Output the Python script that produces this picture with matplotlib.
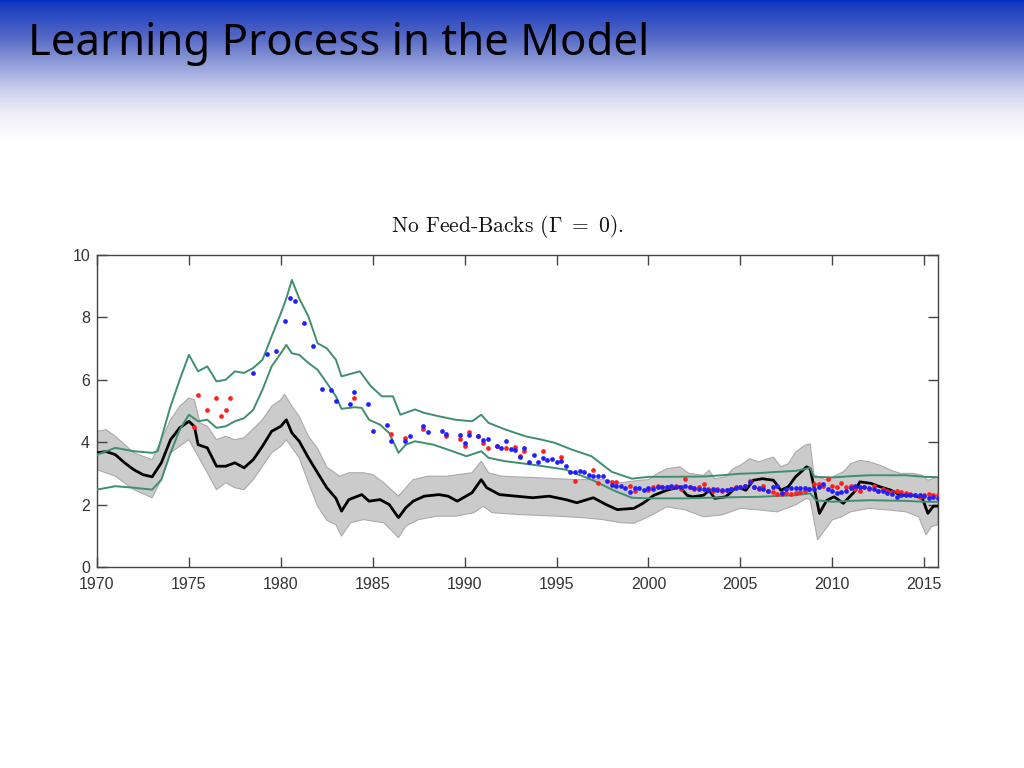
import numpy as np
import matplotlib
matplotlib.use("Agg")
import matplotlib.pyplot as plt

plt.rcParams['mathtext.fontset'] = 'cm'

# ---------------- data ----------------
title = "Learning Process in the Model"
chart_title = r"No Feed-Backs ($\Gamma\ =\ 0$)."
x_ticks = [1970, 1975, 1980, 1985, 1990, 1995, 2000, 2005, 2010, 2015]
y_ticks = [0, 2, 4, 6, 8, 10]

black_x = [1970.0, 1970.5, 1971.0, 1971.5, 1972.0, 1972.5, 1973.0, 1973.5, 1974.0, 1974.5,
           1975.0, 1975.3, 1975.5, 1976.0, 1976.5, 1977.0, 1977.5, 1978.0, 1978.5, 1979.0,
           1979.5, 1980.0, 1980.3, 1980.6, 1981.0, 1981.5, 1982.0, 1982.5, 1983.0, 1983.3,
           1983.7, 1984.4, 1984.8, 1985.4, 1985.9, 1986.4, 1986.8, 1987.2, 1987.8, 1988.6,
           1989.1, 1989.6, 1990.4, 1990.9, 1991.2, 1991.9, 1992.8, 1993.7, 1994.6, 1995.5,
           1996.1, 1997.0, 1997.7, 1998.3, 1999.2, 1999.7, 2000.3, 2001.0, 2001.7, 2002.1,
           2002.4, 2003.0, 2003.3, 2003.6, 2004.2, 2004.8, 2005.3, 2005.7, 2006.2, 2006.8,
           2007.2, 2007.6, 2008.0, 2008.6, 2008.8, 2009.3, 2009.7, 2010.1, 2010.6, 2011.2,
           2011.5, 2012.1, 2012.6, 2013.2, 2013.7, 2014.4, 2014.9, 2015.2, 2015.5, 2015.75]
black_y = [3.66, 3.70, 3.60, 3.34, 3.12, 2.96, 2.89, 3.34, 4.08, 4.46,
           4.67, 4.50, 3.92, 3.82, 3.23, 3.23, 3.34, 3.18, 3.44, 3.87,
           4.35, 4.51, 4.72, 4.30, 4.03, 3.50, 3.02, 2.54, 2.20, 1.79,
           2.16, 2.32, 2.11, 2.16, 2.00, 1.58, 1.90, 2.11, 2.27, 2.32,
           2.27, 2.11, 2.38, 2.80, 2.54, 2.32, 2.27, 2.22, 2.27, 2.16,
           2.06, 2.22, 2.00, 1.84, 1.88, 2.04, 2.30, 2.46, 2.57, 2.30,
           2.25, 2.30, 2.46, 2.20, 2.25, 2.57, 2.46, 2.78, 2.83, 2.78,
           2.46, 2.57, 2.89, 3.21, 3.15, 1.72, 2.14, 2.25, 2.04, 2.41,
           2.73, 2.68, 2.57, 2.46, 2.30, 2.30, 2.20, 1.72, 1.95, 1.95]

band_hi_x = [1970.0, 1970.5, 1971.0, 1972.0, 1973.0, 1973.5, 1974.0, 1974.5, 1975.0, 1975.3,
             1975.6, 1976.0, 1976.5, 1977.0, 1977.5, 1978.0, 1979.0, 1979.5, 1980.0, 1980.2,
             1980.6, 1981.0, 1981.5, 1982.0, 1982.5, 1983.2, 1983.7, 1984.5, 1985.0, 1985.6,
             1986.4, 1987.2, 1988.0, 1989.0, 1990.4, 1990.9, 1991.3, 1992.0, 1994.0, 1996.0,
             1997.5, 1998.5, 1999.5, 2000.0, 2000.5, 2001.0, 2001.7, 2002.2, 2003.0, 2003.3,
             2003.6, 2004.2, 2004.6, 2005.0, 2005.5, 2006.0, 2006.5, 2006.8, 2007.2, 2007.6,
             2008.0, 2008.5, 2008.8, 2009.0, 2009.7, 2010.2, 2010.6, 2011.0, 2011.5, 2012.0,
             2012.6, 2013.2, 2013.7, 2014.4, 2014.9, 2015.2, 2015.75]
band_hi_y = [4.35, 4.40, 4.19, 3.66, 3.44, 4.08, 4.72, 5.15, 5.42, 5.36,
             4.62, 4.51, 4.08, 4.19, 4.08, 4.14, 4.72, 5.15, 5.36, 5.54,
             5.15, 4.83, 4.19, 3.80, 3.20, 2.91, 3.02, 3.02, 2.96, 2.70,
             2.27, 2.80, 2.91, 2.91, 3.02, 3.39, 3.02, 2.91, 2.86, 2.80,
             2.80, 2.70, 2.78, 2.80, 3.00, 3.15, 3.21, 3.00, 2.94, 3.10,
             2.83, 2.89, 3.15, 3.26, 3.47, 3.37, 3.47, 3.52, 3.21, 3.31,
             3.68, 3.90, 3.95, 2.95, 2.78, 2.94, 3.05, 3.31, 3.42, 3.37,
             3.26, 3.10, 3.00, 3.00, 2.94, 2.78, 2.89]

band_lo_x = [1970.0, 1971.0, 1972.0, 1973.0, 1973.5, 1974.0, 1974.5, 1975.0, 1975.5, 1976.0,
             1976.5, 1977.0, 1977.5, 1978.0, 1978.5, 1979.0, 1979.5, 1980.0, 1980.3, 1981.0,
             1981.5, 1982.0, 1982.5, 1983.0, 1983.3, 1983.8, 1984.5, 1985.0, 1985.6, 1986.4,
             1986.8, 1987.5, 1988.5, 1989.5, 1990.5, 1991.0, 1991.5, 1993.0, 1995.0, 1996.5,
             1997.5, 1998.5, 1999.2, 2000.0, 2000.5, 2001.0, 2002.0, 2003.0, 2004.0, 2005.0,
             2006.0, 2007.0, 2008.0, 2008.6, 2008.8, 2009.2, 2009.6, 2010.0, 2010.5, 2011.0,
             2012.0, 2013.0, 2014.0, 2014.7, 2015.1, 2015.4, 2015.75]
band_lo_y = [3.12, 2.91, 2.48, 2.22, 2.80, 3.66, 3.87, 4.08, 3.55, 3.02,
             2.48, 2.70, 2.54, 2.48, 2.80, 3.23, 3.66, 3.87, 4.08, 3.50,
             2.70, 1.95, 1.50, 1.35, 0.99, 1.42, 1.52, 1.47, 1.42, 0.94,
             1.31, 1.52, 1.63, 1.63, 1.74, 1.95, 1.74, 1.68, 1.63, 1.58,
             1.52, 1.42, 1.40, 1.61, 1.77, 1.93, 1.83, 1.61, 1.67, 1.88,
             1.83, 1.77, 1.99, 2.20, 2.15, 0.87, 1.19, 1.51, 1.61, 1.77,
             1.88, 1.83, 1.77, 1.61, 1.03, 1.30, 1.35]

green_hi_x = [1970.0, 1971.0, 1972.0, 1973.0, 1973.3, 1974.0, 1974.5, 1975.0, 1975.5, 1976.0,
              1976.5, 1977.0, 1977.5, 1978.0, 1978.5, 1979.0, 1979.5, 1980.0, 1980.3, 1980.6,
              1981.0, 1981.5, 1982.0, 1982.5, 1983.0, 1983.3, 1984.3, 1984.9, 1985.5, 1986.1,
              1986.5, 1987.3, 1987.8, 1988.6, 1989.5, 1990.4, 1990.9, 1991.3, 1992.2, 1993.3,
              1994.2, 1994.9, 1995.8, 1996.9, 1998.0, 1999.1, 2000.0, 2001.0, 2003.0, 2004.0,
              2005.0, 2006.0, 2007.0, 2008.0, 2008.8, 2009.0, 2010.0, 2011.0, 2012.0, 2014.0,
              2015.0, 2015.75]
green_hi_y = [3.60, 3.82, 3.71, 3.66, 3.71, 5.15, 6.00, 6.80, 6.27, 6.43,
              5.95, 6.00, 6.27, 6.22, 6.38, 6.64, 7.39, 8.13, 8.61, 9.20,
              8.61, 8.03, 7.17, 7.01, 6.64, 6.11, 6.27, 5.79, 5.47, 5.47,
              4.88, 5.05, 4.94, 4.83, 4.72, 4.67, 4.88, 4.62, 4.41, 4.19,
              4.08, 3.98, 3.77, 3.55, 3.05, 2.83, 2.89, 2.89, 2.90, 2.94,
              2.99, 3.01, 3.05, 3.08, 3.18, 2.89, 2.87, 2.91, 2.94, 2.94,
              2.89, 2.88]

green_lo_x = [1970.0, 1971.0, 1972.0, 1973.0, 1973.5, 1974.0, 1974.5, 1975.0, 1975.5, 1976.0,
              1976.5, 1977.0, 1977.5, 1978.0, 1978.5, 1979.0, 1979.5, 1980.0, 1980.3, 1980.6,
              1981.0, 1981.5, 1982.0, 1982.5, 1983.0, 1983.3, 1984.0, 1984.4, 1984.8, 1985.4,
              1985.9, 1986.4, 1986.8, 1987.3, 1988.3, 1989.1, 1990.1, 1990.9, 1991.3, 1992.2,
              1993.7, 1995.5, 1996.9, 1998.2, 1999.1, 2000.0, 2002.0, 2004.0, 2006.0, 2008.0,
              2008.8, 2009.1, 2010.0, 2011.0, 2012.0, 2014.0, 2015.0, 2015.75]
green_lo_y = [2.48, 2.59, 2.54, 2.48, 2.80, 3.66, 4.40, 4.88, 4.67, 4.72,
              4.46, 4.51, 4.67, 4.77, 5.04, 5.68, 6.43, 6.85, 7.12, 6.85,
              6.80, 6.54, 6.32, 5.90, 5.47, 5.07, 5.12, 5.10, 4.72, 4.56,
              4.29, 3.66, 3.92, 4.03, 3.92, 3.76, 3.55, 3.71, 3.50, 3.39,
              3.28, 3.12, 2.80, 2.43, 2.22, 2.20, 2.20, 2.23, 2.25, 2.30,
              2.36, 2.14, 2.09, 2.12, 2.14, 2.12, 2.09, 2.09]

red_x = [1975.25, 1975.5, 1976.0, 1976.5, 1976.75, 1977.0, 1977.25, 1984.0, 1986.0, 1986.75,
         1987.75, 1989.0, 1989.75, 1990.0, 1990.25, 1990.75, 1991.0, 1991.25, 1991.75, 1992.25,
         1992.75, 1993.0, 1993.25, 1994.25, 1995.25, 1996.0, 1997.0, 1997.25, 1998.0, 1998.25,
         1999.0, 1999.25,
         2000.0, 2000.25, 2000.5, 2000.75, 2001.0, 2001.25, 2001.5, 2001.75,
         2002.0, 2002.25, 2002.5, 2002.75, 2003.0, 2003.25, 2003.5, 2003.75,
         2004.0, 2004.25, 2004.5, 2004.75, 2005.0, 2005.25, 2005.5, 2005.75,
         2006.0, 2006.25, 2006.5, 2006.75, 2007.0, 2007.25, 2007.5, 2007.75,
         2008.0, 2008.25, 2008.5, 2008.75, 2009.0, 2009.25, 2009.5, 2009.75,
         2010.0, 2010.25, 2010.5, 2010.75, 2011.0, 2011.25, 2011.5, 2011.75,
         2012.0, 2012.25, 2012.5, 2012.75, 2013.0, 2013.25, 2013.5, 2013.75,
         2014.0, 2014.25, 2014.5, 2014.75, 2015.0, 2015.25, 2015.5, 2015.75]
red_y = [4.50, 5.52, 5.02, 5.42, 4.83, 5.02, 5.42, 5.42, 4.26, 4.12,
         4.42, 4.19, 4.10, 3.89, 4.32, 4.19, 3.98, 3.82, 3.89, 3.82,
         3.85, 3.57, 3.71, 3.71, 3.52, 2.75, 3.12, 2.70, 2.72, 2.72,
         2.61, 2.43,
         2.48, 2.55, 2.60, 2.55, 2.58, 2.55, 2.60, 2.50,
         2.83, 2.55, 2.50, 2.55, 2.66, 2.50, 2.45, 2.50,
         2.42, 2.48, 2.50, 2.55, 2.55, 2.60, 2.76, 2.55,
         2.51, 2.60, 2.45, 2.40, 2.33, 2.35, 2.38, 2.35,
         2.38, 2.40, 2.42, 2.50, 2.65, 2.65, 2.60, 2.81,
         2.60, 2.55, 2.68, 2.55, 2.60, 2.50, 2.45, 2.55,
         2.50, 2.60, 2.45, 2.50, 2.45, 2.40, 2.45, 2.40,
         2.38, 2.35, 2.30, 2.25, 2.30, 2.35, 2.30, 2.30]

blue_x = [1978.5, 1979.25, 1979.75, 1980.25, 1980.5, 1980.75, 1981.25, 1981.75, 1982.25, 1982.75,
          1983.0, 1983.75, 1984.0, 1984.75, 1985.0, 1985.75, 1986.0, 1986.75, 1987.0, 1987.75,
          1988.0, 1988.75, 1989.0, 1989.75, 1990.0, 1990.25, 1990.75, 1991.0, 1991.25, 1991.75,
          1992.0, 1992.25, 1992.5, 1992.75, 1993.0, 1993.25, 1993.5, 1993.75,
          1994.0, 1994.25, 1994.5, 1994.75, 1995.0, 1995.25, 1995.5, 1995.75,
          1996.0, 1996.25, 1996.5, 1996.75, 1997.0, 1997.25, 1997.5, 1997.75,
          1998.0, 1998.25, 1998.5, 1998.75, 1999.0, 1999.25, 1999.5, 1999.75,
          2000.0, 2000.25, 2000.5, 2000.75, 2001.0, 2001.25, 2001.5, 2001.75,
          2002.0, 2002.25, 2002.5, 2002.75, 2003.0, 2003.25, 2003.5, 2003.75,
          2004.0, 2004.25, 2004.5, 2004.75, 2005.0, 2005.25, 2005.5, 2005.75,
          2006.0, 2006.25, 2006.5, 2006.75, 2007.0, 2007.25, 2007.5, 2007.75,
          2008.0, 2008.25, 2008.5, 2008.75, 2009.0, 2009.25, 2009.5, 2009.75,
          2010.0, 2010.25, 2010.5, 2010.75, 2011.0, 2011.25, 2011.5, 2011.75,
          2012.0, 2012.25, 2012.5, 2012.75, 2013.0, 2013.25, 2013.5, 2013.75,
          2014.0, 2014.25, 2014.5, 2014.75, 2015.0, 2015.25, 2015.5, 2015.75]
blue_y = [6.22, 6.82, 6.93, 7.87, 8.62, 8.54, 7.83, 7.07, 5.71, 5.67,
          5.31, 5.22, 5.62, 5.22, 4.37, 4.56, 4.03, 4.03, 4.21, 4.53,
          4.32, 4.37, 4.26, 4.24, 3.98, 4.24, 4.19, 4.08, 4.10, 3.89,
          3.82, 4.03, 3.78, 3.76, 3.52, 3.82, 3.36, 3.60,
          3.36, 3.50, 3.42, 3.46, 3.36, 3.41, 3.23, 3.04,
          3.04, 3.09, 3.04, 2.96, 2.93, 2.91, 2.91, 2.77,
          2.64, 2.61, 2.59, 2.54, 2.40, 2.54, 2.54, 2.48,
          2.54, 2.50, 2.55, 2.58, 2.55, 2.60, 2.56, 2.55,
          2.60, 2.55, 2.52, 2.50, 2.50, 2.48, 2.50, 2.47,
          2.48, 2.48, 2.50, 2.52, 2.55, 2.60, 2.71, 2.58,
          2.52, 2.50, 2.44, 2.55, 2.60, 2.38, 2.50, 2.52,
          2.54, 2.52, 2.54, 2.49, 2.50, 2.55, 2.65, 2.50,
          2.42, 2.38, 2.40, 2.45, 2.52, 2.60, 2.58, 2.55,
          2.52, 2.50, 2.45, 2.42, 2.38, 2.35, 2.25, 2.30,
          2.32, 2.32, 2.32, 2.30, 2.27, 2.20, 2.25, 2.22]

# ---------------- figure ----------------
W, H = 1024, 768
fig = plt.figure(figsize=(W / 100, H / 100), dpi=100)

# slide background with blue header gradient
bg = fig.add_axes([0, 0, 1, 1])
bg.set_axis_off()
rows = np.arange(H)
stop_rows = [0, 5, 35, 62, 90, 115, 140]
stop_cols = np.array([[0.02, 0.18, 0.78],
                      [0.10, 0.24, 0.76],
                      [0.32, 0.40, 0.77],
                      [0.56, 0.61, 0.85],
                      [0.80, 0.82, 0.93],
                      [0.94, 0.94, 0.97],
                      [1.00, 1.00, 1.00]])
grad = np.stack([np.interp(rows, stop_rows, stop_cols[:, c]) for c in range(3)], axis=1)
grad = grad[:, None, :]
bg.imshow(grad, aspect='auto', extent=[0, 1, 0, 1], interpolation='bilinear')
bg.set_xlim(0, 1)
bg.set_ylim(0, 1)

fig.text(28 / W, 1 - 55 / H, title, fontsize=31.5, color='black',
         family=['Noto Sans', 'DejaVu Sans'], ha='left', va='baseline')

# chart title (centred slightly left of the axes centre, as in the source)
fig.text(507 / W, 1 - 226 / H, chart_title, fontsize=15.5, family=['cmr10', 'DejaVu Serif'],
         color='#111111', ha='center', va='center')

# chart axes
ax = fig.add_axes([97 / W, 1 - 567 / H, (938 - 97) / W, (567 - 255) / H])
ax.set_facecolor('white')

band_poly_x = np.concatenate([band_hi_x, band_lo_x[::-1]])
band_poly_y = np.concatenate([band_hi_y, band_lo_y[::-1]])
ax.fill(band_poly_x, band_poly_y, facecolor='#cbcbcb', edgecolor='#aaaaaa', linewidth=0.8, zorder=1)
ax.plot(black_x, black_y, color='black', lw=2.0, zorder=3)
ax.plot(green_hi_x, green_hi_y, color='#3f8f6e', lw=1.4, zorder=4)
ax.plot(green_lo_x, green_lo_y, color='#3f8f6e', lw=1.4, zorder=4)
ax.plot(red_x, red_y, linestyle='none', marker='o', ms=3.4, mew=0, color='#ff1f1f', zorder=5)
ax.plot(blue_x, blue_y, linestyle='none', marker='o', ms=3.4, mew=0, color='#1f1fff', zorder=6)

ax.set_xlim(1970, 2015.75)
ax.set_ylim(0, 10)
ax.set_xticks(x_ticks)
ax.set_yticks(y_ticks)
ax.tick_params(direction='in', length=7, width=1, color='#444444', top=True, right=True,
               labelsize=11.5, labelcolor='#333333')
ax.tick_params(axis='x', pad=7)
ax.tick_params(axis='y', pad=5)
for lab in ax.get_xticklabels() + ax.get_yticklabels():
    lab.set_family(['Liberation Sans', 'DejaVu Sans'])
for s in ax.spines.values():
    s.set_color('#444444')
    s.set_linewidth(1.0)

fig.savefig('out.png', dpi=100)
